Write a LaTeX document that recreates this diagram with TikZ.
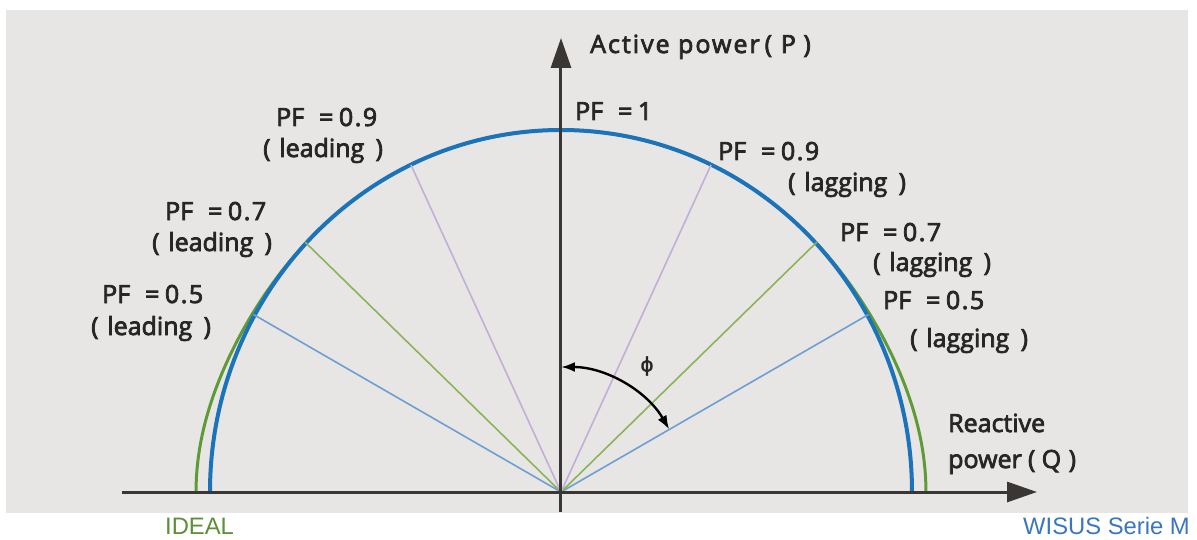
\documentclass[tikz,border=0pt]{standalone}
\usepackage{fontspec}
\setmainfont{Open Sans}
\newfontfamily\lblfont{Open Sans}[FakeBold=3]
\newfontfamily\arialfont{Liberation Sans}
\newfontfamily\symfont{DejaVu Sans}[FakeBold=1.5]
\usetikzlibrary{arrows.meta}
\definecolor{bg}{HTML}{E7E6E4}
\definecolor{axis}{HTML}{3A3633}
\definecolor{txt}{HTML}{262626}
\definecolor{circblue}{HTML}{1B74BA}
\definecolor{circgreen}{HTML}{5E9A36}
\definecolor{lnpurple}{HTML}{C2AED6}
\definecolor{lngreen}{HTML}{8DB35A}
\definecolor{lnblue}{HTML}{6E9FD2}
\definecolor{idealgreen}{HTML}{5B8F38}
\definecolor{wisusblue}{HTML}{3A76BD}
\newcommand{\pfl}[1]{PF\hspace{0.6em}=\hspace{0.22em}{\addfontfeature{LetterSpace=6}#1}}
\newcommand{\parl}[1]{(\hspace{0.35em}#1\hspace{0.45em})}
\begin{document}
\begin{tikzpicture}[x=1pt,y=1pt,
  lbl/.style={anchor=base west, inner sep=0pt, font=\lblfont\fontsize{25}{27}\selectfont, text=txt},
  brand/.style={anchor=base west, inner sep=0pt, font=\arialfont\fontsize{23.8}{26}\selectfont},
  axisline/.style={line width=3pt, draw=axis, -{Triangle[length=30pt,width=20pt]}},
  pfline/.style={line width=1.6pt}]
\useasboundingbox (-561,-47) rectangle (636,492);
\fill[bg] (-555,-21) rectangle (627,482);
\coordinate (O) at (0,0);
% ideal (green) and measured (blue) curves
\draw[circgreen, line width=3pt] plot[domain=0:180, samples=160, variable=\t]
  ({cos(\t)*(351+14*(cos(\t)*cos(\t))^5)}, {362*sin(\t)});
\draw[circblue, line width=4pt] (351,0) arc[start angle=0, end angle=180, x radius=351, y radius=362];
% power factor lines
\coordinate (L5) at (-307.5,177.5);
\coordinate (R5) at (307.5,177.5);
\coordinate (L7) at (-256,250);
\coordinate (R7) at (256,250);
\coordinate (L9) at (-150,327);
\coordinate (R9) at (150,327);
\draw[pfline, lnblue] (O) -- (L5);
\draw[pfline, lnblue] (O) -- (R5);
\draw[pfline, lngreen] (O) -- (L7);
\draw[pfline, lngreen] (O) -- (R7);
\draw[pfline, lnpurple] (O) -- (L9);
\draw[pfline, lnpurple] (O) -- (R9);
% axes
\coordinate (xs) at (-439,0);
\coordinate (xe) at (476,0);
\coordinate (ys) at (0,-20);
\coordinate (ye) at (0,454);
\draw[axisline] (xs) -- (xe);
\draw[axisline] (ys) -- (ye);
% phi arc
\coordinate (phiA) at (90:125);
\draw[line width=2.4pt, black, {Latex[length=14pt,width=10pt]}-{Latex[length=14pt,width=10pt]}] (phiA) arc[start angle=90, end angle=30, radius=125];
\node[font=\symfont\fontsize{20}{22}\selectfont, text=txt] (phi) at (86,126) {ϕ};
% labels
\node[lbl] (ap) at (29,439) {{\addfontfeature{LetterSpace=8}Active power}\hspace{0.2em}(\hspace{0.35em}P\hspace{0.3em})};
\node[lbl] (pf1) at (14,372) {\pfl{1}};
\node[lbl] (pf9g) at (157,332) {\pfl{0.9}};
\node[lbl] (lag9) at (227,301) {\parl{lagging}};
\node[lbl] (pf9d) at (-285,366) {\pfl{0.9}};
\node[lbl] (lead9) at (-298,335) {\parl{leading}};
\node[lbl] (pf7d) at (-396,272) {\pfl{0.7}};
\node[lbl] (lead7) at (-409,241) {\parl{leading}};
\node[lbl] (pf5d) at (-459,189) {\pfl{0.5}};
\node[lbl] (lead5) at (-470,157) {\parl{leading}};
\node[lbl] (pf7g) at (279,251) {\pfl{0.7}};
\node[lbl] (lag7) at (312,221) {\parl{lagging}};
\node[lbl] (pf5g) at (322,183) {\pfl{0.5}};
\node[lbl] (lag5) at (349,145) {\parl{lagging}};
\node[lbl] (rq1) at (387,60) {Reactive};
\node[lbl] (rq2) at (387,24) {power\hspace{0.25em}(\hspace{0.25em}Q\hspace{0.3em})};
\node[brand, text=idealgreen] (ideal) at (-396,-42) {IDEAL};
\node[brand, text=wisusblue] (wisus) at (462,-42) {WISUS Serie M};
\end{tikzpicture}
\end{document}
